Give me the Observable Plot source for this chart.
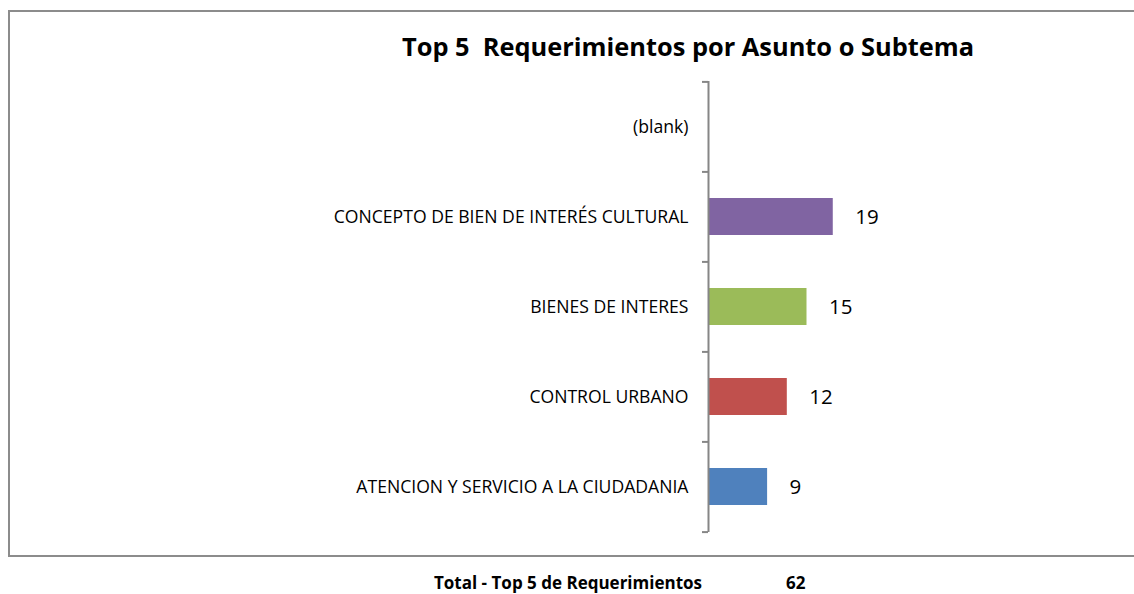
<!DOCTYPE html>
<html><head><meta charset="utf-8">
<script src="https://cdn.jsdelivr.net/npm/d3@7"></script>
<script src="https://cdn.jsdelivr.net/npm/@observablehq/plot@0.6"></script>
<style>
  body { margin: 0; background: #fff; font-family: "Open Sans", sans-serif; }
  #wrap { position: relative; width: 1134px; height: 594px; overflow: hidden; }
  #frame { position: absolute; left: 8px; top: 10px; width: 1140px; height: 543px; border: 2px solid #8c8c8c; }
  #title { position: absolute; left: 388px; width: 600px; top: 34px; text-align: center; font-weight: bold; font-size: 25.4px; line-height: 1; color: #000; white-space: pre; }
  #chart { position: absolute; left: 0; top: 0; }
  .foot { position: absolute; top: 574px; font-weight: bold; font-size: 17px; line-height: 1; color: #000; white-space: pre; }
</style>
</head>
<body>
<div id="wrap">
  <div id="frame"></div>
  <div id="title">Top 5  Requerimientos por Asunto o Subtema</div>
  <div id="chart"></div>
  <div class="foot" id="totalLabel" style="left:434px"></div>
  <div class="foot" id="totalValue" style="left:786px"></div>
</div>
<script>
const categories = ["(blank)", "CONCEPTO DE BIEN DE INTERÉS CULTURAL", "BIENES DE INTERES", "CONTROL URBANO", "ATENCION Y SERVICIO A LA CIUDADANIA"];
const values = [null, 19, 15, 12, 9];
const colors = [null, "#8064A2", "#9BBB59", "#C0504D", "#4F81BD"];
const totalLabel = "Total - Top 5 de Requerimientos";
const totalValue = 62;

const data = categories.map((c, i) => ({category: c, value: values[i], color: colors[i]}));
const bars = data.filter(d => d.value != null);

const W = 1134, H = 560, mt = 81, mb = 28, ml = 708, mr = 32;
const step = (H - mt - mb) / categories.length;
const axisGray = "#868686";

const chart = Plot.plot({
  width: W, height: H,
  marginTop: mt, marginBottom: mb, marginLeft: ml, marginRight: mr,
  style: {fontFamily: "Open Sans", color: "#000", background: "transparent", overflow: "visible"},
  x: {domain: [0, 60], axis: null},
  y: {domain: categories, paddingInner: 0.59, paddingOuter: 0.295, label: null},
  marks: [
    Plot.barX(bars, {x: "value", y: "category", fill: "color"}),
    Plot.axisY({tickSize: 0, tickPadding: 20, fontSize: 17.6, fill: "#000", label: null}),
    Plot.axisY({tickSize: 6, tickFormat: () => "", stroke: axisGray, strokeWidth: 2, dy: -step / 2, label: null}),
    Plot.axisY(categories.slice(-1), {tickSize: 6, tickFormat: () => "", stroke: axisGray, strokeWidth: 2, dy: step / 2, label: null}),
    Plot.ruleX([0], {stroke: axisGray, strokeWidth: 2}),
    Plot.text(bars, {x: "value", y: "category", text: d => String(d.value), dx: 22, textAnchor: "start", fontSize: 20.5, fill: "#000"})
  ]
});
document.getElementById("chart").append(chart);
document.getElementById("totalLabel").textContent = totalLabel;
document.getElementById("totalValue").textContent = String(totalValue);
</script>
</body></html>
